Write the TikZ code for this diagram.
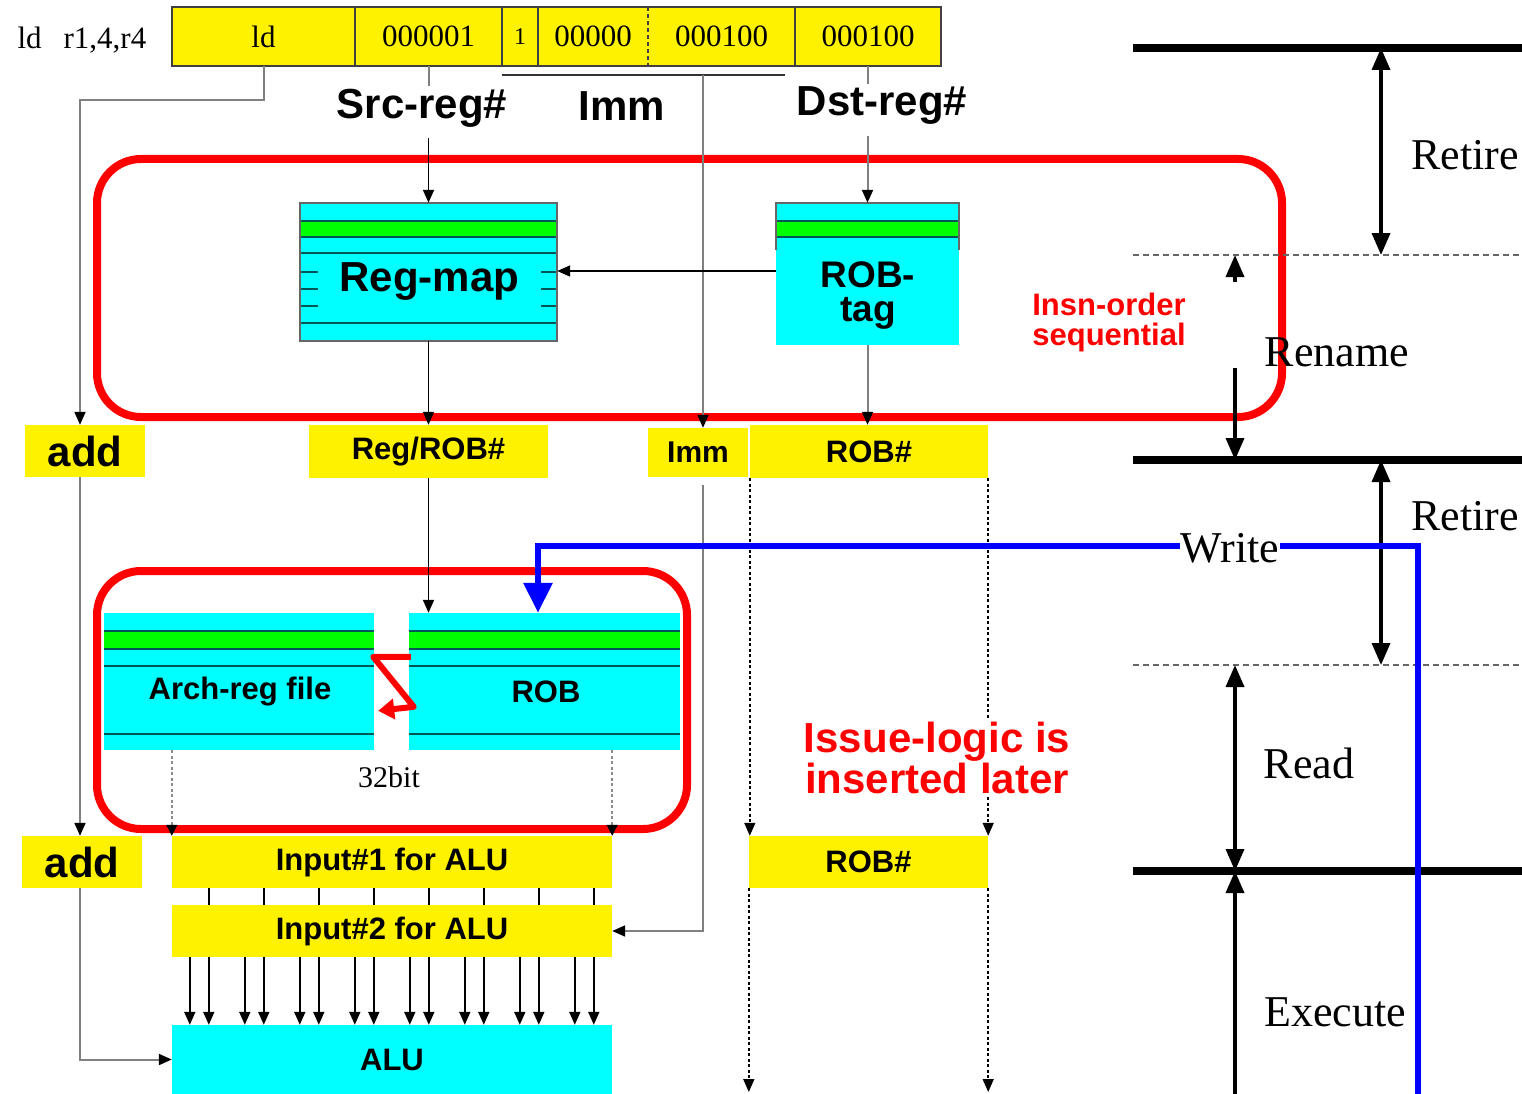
\documentclass[tikz,border=0pt]{standalone}
\usepackage{fontspec}
\setmainfont{Liberation Serif}
\setsansfont{Liberation Sans}
\usetikzlibrary{arrows.meta,calc}
\definecolor{regcyan}{RGB}{0,255,255}
\definecolor{reggreen}{RGB}{0,255,0}
\definecolor{rowteal}{RGB}{0,85,85}
\newcommand{\fsz}[1]{\fontsize{#1}{#1}\selectfont}

\begin{document}
\begin{tikzpicture}[x=1pt, y=-1pt,
      >={Triangle[width=11pt,length=13pt]},
      field/.style={fill=yellow, minimum height=59pt, inner sep=0pt, font=\fsz{31}},
      ylbl/.style={fill=yellow, inner sep=0pt, minimum height=52pt,
                   font=\sffamily\bfseries\fsz{31}},
      hdr/.style={font=\sffamily\bfseries\fsz{42}, inner sep=3pt},
      cbox/.style={fill=regcyan, inner sep=0pt},
      rowline/.style={draw=rowteal, line width=1.6pt},
      arr/.style={->, line width=1.8pt},
      gline/.style={draw=black!50, line width=2pt},
      garr/.style={gline, -{Triangle[width=11pt,length=13pt,color=black]}},
      dotarr/.style={->, line width=1.5pt, dash pattern=on 3pt off 2.5pt},
      gdotarr/.style={dotarr, draw=black!45, -{Triangle[width=11pt,length=11pt,color=black]}},
      redframe/.style={draw=red, line width=8pt, rounded corners=44pt},
      stage/.style={font=\fsz{44}, inner sep=2pt},
      stageline/.style={line width=8pt},
      stagesep/.style={draw=black!60, line width=2pt, dash pattern=on 6pt off 4pt},
      stagearr/.style={line width=3.5pt,
                       {Triangle[width=18pt,length=22pt]}-{Triangle[width=18pt,length=22pt]}},
      stageup/.style={line width=3.5pt, -{Triangle[width=18pt,length=22pt]}},
      bluearr/.style={draw=blue, line width=6pt, -{Triangle[width=28pt,length=30pt]}},
      note/.style={text=red, align=center, inner sep=2pt}
    ]
    \useasboundingbox (0,0) rectangle (1522,1094);

    % instruction word
    \node[font=\fsz{31}, anchor=west] (asm) at (14,40) {ld\hspace{22pt}r1,4,r4};
    \node[field, minimum width=183pt] (fop) at (263.5,36.5) {ld};
    \node[field, minimum width=147pt] (fsrc) at (428.5,36.5) {000001};
    \node[field, minimum width=36pt, font=\fsz{24}] (fbit) at (520,36.5) {1};
    \node[field, minimum width=110pt] (flo) at (593,36.5) {00000};
    \node[field, minimum width=147pt] (fhi) at (721.5,36.5) {000100};
    \node[field, minimum width=146pt] (fdst) at (868,36.5) {000100};
    \draw[draw=black!75, line width=2pt] (fop.north west) rectangle (fdst.south east);
    \foreach \fld in {fsrc,fbit,flo,fdst}
      \draw[draw=black!75, line width=1.5pt] (\fld.north west) -- (\fld.south west);
    \draw[draw=black!75, line width=1.5pt, dash pattern=on 4pt off 3pt]
      (fhi.north west) -- (fhi.south west);

    \node[hdr] (srclbl) at (422,108) {Src-reg\#};
    \node[hdr] (immlbl) at (622,106) {Imm};
    \node[hdr] (dstlbl) at (882,106) {Dst-reg\#};
    \coordinate (immL) at (502,75);
    \coordinate (immR) at (785,75);
    \coordinate (immT) at (703,75);

    % rename stage
    \draw[redframe] (97,159) rectangle (1282,417);

    \node[cbox, minimum width=257pt, minimum height=138pt] (regmap) at (428.5,272) {};
    \fill[reggreen] ($(regmap.north west)+(0,18)$) rectangle ($(regmap.north east)+(0,34)$);
    \foreach \dy in {18,34,50,69,86,103,120}
      \draw[rowline] ($(regmap.north west)+(0,\dy)$) -- ($(regmap.north east)+(0,\dy)$);
    \draw[draw=black!60, line width=1.5pt] (regmap.north west) rectangle (regmap.south east);
    \node[cbox, hdr, minimum width=223pt, minimum height=51pt] (regmaptxt) at (429.5,281.5) {Reg-map};

    \node[cbox, minimum width=183pt, minimum height=142pt] (robtag) at (867.5,274) {};
    \fill[reggreen] ($(robtag.north west)+(0,18)$) rectangle ($(robtag.north east)+(0,34)$);
    \foreach \dy in {18,34}
      \draw[rowline] ($(robtag.north west)+(0,\dy)$) -- ($(robtag.north east)+(0,\dy)$);
    \draw[draw=black!60, line width=1.5pt] ($(robtag.north west)+(0,47)$) -- (robtag.north west)
      -- (robtag.north east) -- ($(robtag.north east)+(0,47)$);
    \node[font=\sffamily\bfseries\fsz{37}, align=center, inner sep=0pt] (robtagtxt)
      at (868,296) {ROB-\\[-3pt]tag};

    \node[ylbl, minimum width=120pt, font=\sffamily\bfseries\fsz{42}] (add1) at (85,451) {add};
    \node[ylbl, minimum width=239pt, minimum height=53pt] (regrob) at (428.5,451.5) {Reg/ROB\#};
    \node[ylbl, minimum width=100pt, minimum height=49pt, font=\sffamily\bfseries\fsz{30}]
      (imm) at (698,452.5) {Imm};
    \node[ylbl, minimum width=238pt, minimum height=53pt] (rob1) at (869,451.5) {ROB\#};

    % read stage
    \draw[redframe] (97,571) rectangle (687,829);
    \node[cbox, minimum width=270pt, minimum height=137pt] (archreg) at (239,681.5) {};
    \node[cbox, minimum width=271pt, minimum height=137pt] (rob) at (544.5,681.5) {};
    \foreach \bx in {archreg,rob}{
      \fill[reggreen] ($(\bx.north west)+(0,18)$) rectangle ($(\bx.north east)+(0,36)$);
      \foreach \dy in {18,36,53,121}
        \draw[rowline] ($(\bx.north west)+(0,\dy)$) -- ($(\bx.north east)+(0,\dy)$);
    }
    \node[font=\sffamily\bfseries\fsz{31}, inner sep=0pt] (archregtxt) at (240,692) {Arch-reg file};
    \node[font=\sffamily\bfseries\fsz{31}, inner sep=0pt] (robtxt) at (546,692) {ROB};
    \node[font=\fsz{30}] (bits) at (389,777) {32bit};
    \draw[red, line width=6pt, line join=round, -{Triangle[width=20pt,length=16pt]}]
      ($(rob.north west)+(2,44)$) -- ($(archreg.north east)+(-1,44)$)
      -- ($(rob.north west)+(5,94)$) -- ($(archreg.north east)+(4,98)$);

    \node[ylbl, minimum width=120pt, font=\sffamily\bfseries\fsz{42}] (add2) at (82,862) {add};
    \node[ylbl, minimum width=440pt] (in1) at (392,862) {Input\#1 for ALU};
    \node[ylbl, minimum width=440pt] (in2) at (392,931) {Input\#2 for ALU};
    \node[cbox, minimum width=440pt, minimum height=69pt, font=\sffamily\bfseries\fsz{31}]
      (alu) at (392,1059.5) {ALU};
    \node[ylbl, minimum width=239pt] (rob2) at (868.5,862) {ROB\#};
    \coordinate (robout) at (0,1092);

    % connectors
    \draw[garr] (fop.south) -- ++(0,34) -| ($(add1.north)+(-5,0)$);
    \draw[gline] (fsrc.south) -- (fsrc.south |- srclbl.north);
    \draw[arr] ($(regmap.north |- srclbl.south)+(0,8)$) -- (regmap.north);
    \draw[gline] (fdst.south) -- (fdst.south |- dstlbl.north);
    \draw[garr] ($(robtag.north |- dstlbl.south)+(0,8)$) -- (robtag.north);
    \draw[black!80, line width=2pt] (immL) -- (immR);
    \draw[garr] (immT) -- (immT |- imm.north);
    \draw[arr] ($(robtag.west)+(0,-3)$) -- ($(regmap.east)+(0,-1)$);
    \draw[arr] (regmap.south) -- (regrob.north);
    \draw[garr] (robtag.south) -- (robtag.south |- rob1.north);

    \draw[arr] (regrob.south) -- (regrob.south |- rob.north);
    \draw[garr] ($(imm.south -| immT)+(0,8)$) |- (in2.east);
    \draw[dotarr] (rob1.south west) -- (rob1.south west |- rob2.north);
    \draw[dotarr] (rob1.south east) -- (rob1.south east |- rob2.north);
    \draw[garr] ($(add1.south)+(-5,0)$) -- ($(add2.north)+(-2,0)$);
    \draw[gdotarr] (in1.north west |- archreg.south) -- (in1.north west);
    \draw[gdotarr] (in1.north east |- rob.south) -- (in1.north east);
    \foreach \i in {0,...,7}{
      \draw[line width=1.8pt] ($(in1.south west)+(37+55*\i,0)$) -- ($(in2.north west)+(37+55*\i,0)$);
      \foreach \dx in {18,37}
        \draw[arr] ($(in2.south west)+(\dx+55*\i,0)$) -- ($(alu.north west)+(\dx+55*\i,0)$);
    }
    \draw[garr] ($(add2.south)+(-2,0)$) |- (alu.west);
    \draw[dotarr] (rob2.south west) -- (rob2.south west |- robout);
    \draw[dotarr] (rob2.south east) -- (rob2.south east |- robout);

    \node[note, fill=white, font=\sffamily\bfseries\fsz{42}] (issue) at (937,758)
      {Issue-logic is\\[-1pt]inserted later};
    \node[note, font=\sffamily\bfseries\fsz{31}] (insn) at (1109,322) {Insn-order\\[-1pt]sequential};

    % pipeline stages
    \coordinate (s0) at (1133,48);
    \coordinate (s1) at (1133,255);
    \coordinate (s2) at (1133,460);
    \coordinate (s3) at (1133,665);
    \coordinate (s4) at (1133,871);
    \coordinate (colA) at (1381,0);
    \coordinate (colB) at (1235,0);
    \coordinate (edge) at (1530,0);
    \coordinate (bot) at (0,1100);
    \foreach \s in {s0,s2,s4}
      \draw[stageline] (\s) -- (\s -| edge);
    \foreach \s in {s1,s3}
      \draw[stagesep] (\s) -- (\s -| edge);
    \draw[stagearr] (s0 -| colA) -- (s1 -| colA);
    \draw[stageup] ($(s1 -| colB)+(0,27)$) -- (s1 -| colB);
    \draw[stageup] ($(s2 -| colB)+(0,-92)$) -- (s2 -| colB);
    \draw[stagearr] (s2 -| colA) -- (s3 -| colA);
    \draw[stagearr] (s3 -| colB) -- (s4 -| colB);
    \draw[stageup] (bot -| colB) -- (s4 -| colB);

    \node[stage] (retire1) at (1465,155) {Retire};
    \node[stage] (rename) at (1337,352) {Rename};
    \node[stage] (retire2) at (1465,516) {Retire};
    \node[stage] (read) at (1309,763) {Read};
    \node[stage] (execute) at (1335,1012) {Execute};

    % write-back path
    \coordinate (wturn) at (538,546);
    \coordinate (wbot) at (1418,1100);
    \draw[bluearr] (wbot) |- (wturn) -- (wturn |- rob.north);
    \node[stage, fill=white, inner sep=1pt] (write) at (1230,548) {Write};
  \end{tikzpicture}
\end{document}
